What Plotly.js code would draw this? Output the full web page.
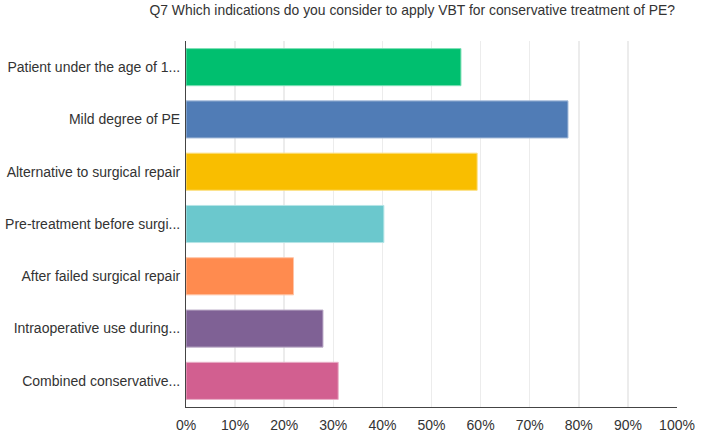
<!DOCTYPE html>
<html>
<head>
<meta charset="utf-8">
<script src="https://cdn.plot.ly/plotly-3.0.1.min.js"></script>
<style>html,body{margin:0;padding:0;background:#fff;}#chart{width:712px;height:432px;}</style>
</head>
<body>
<div id="chart"></div>
<script>
var categories = [
  "Patient under the age of 1...",
  "Mild degree of PE",
  "Alternative to surgical repair",
  "Pre-treatment before surgi...",
  "After failed surgical repair",
  "Intraoperative use during...",
  "Combined conservative..."
];
var percentValues = [56.0, 77.8, 59.3, 40.3, 21.9, 27.9, 31.0];
var barColors = ["#00BF6F", "#507CB6", "#F9BE00", "#6BC8CD", "#FF8B4F", "#7F6195", "#D25F90"];
var barEdgeColors = ["#7FE0B7", "#A8BEDB", "#FCDF80", "#B5E4E6", "#FFC5A7", "#BFB0CA", "#E9AFC8"];
var xTickVals = [0, 10, 20, 30, 40, 50, 60, 70, 80, 90, 100];
var xTickText = ["0%", "10%", "20%", "30%", "40%", "50%", "60%", "70%", "80%", "90%", "100%"];
var chartTitle = "Q7 Which indications do you consider to apply VBT for conservative treatment of PE?";

var trace = {
  type: "bar",
  orientation: "h",
  x: percentValues,
  y: categories,
  marker: { color: barColors, line: { color: barEdgeColors, width: 1 } },
  hoverinfo: "x+y"
};

var layout = {
  width: 712,
  height: 432,
  margin: { l: 186, r: 35, t: 41, b: 25, pad: 0 },
  paper_bgcolor: "#fff",
  plot_bgcolor: "#fff",
  font: { family: "Liberation Sans, Arial, sans-serif", size: 14, color: "#333" },
  showlegend: false,
  bargap: 0.29,
  title: {
    text: chartTitle,
    font: { family: "Liberation Sans, Arial, sans-serif", size: 13.9, color: "#333" },
    x: 0.996, xanchor: "right", xref: "paper",
    y: 0.976, yanchor: "middle", yref: "container"
  },
  xaxis: {
    range: [0, 100],
    tickvals: xTickVals,
    ticktext: xTickText,
    showgrid: true,
    gridcolor: "#ececec",
    gridwidth: 1.5,
    zeroline: false,
    showline: true,
    linecolor: "#444",
    linewidth: 1,
    ticks: "",
    ticklabelstandoff: 5,
    tickfont: { size: 14, color: "#333" },
    fixedrange: true
  },
  yaxis: {
    type: "category",
    categoryorder: "array",
    categoryarray: categories,
    range: [6.5, -0.5],
    showgrid: false,
    zeroline: false,
    showline: true,
    linecolor: "#444",
    linewidth: 1,
    ticks: "",
    ticklabelstandoff: 2,
    tickfont: { size: 14, color: "#333" },
    fixedrange: true
  }
};

Plotly.newPlot("chart", [trace], layout, { displayModeBar: false, staticPlot: true });
</script>
</body>
</html>
